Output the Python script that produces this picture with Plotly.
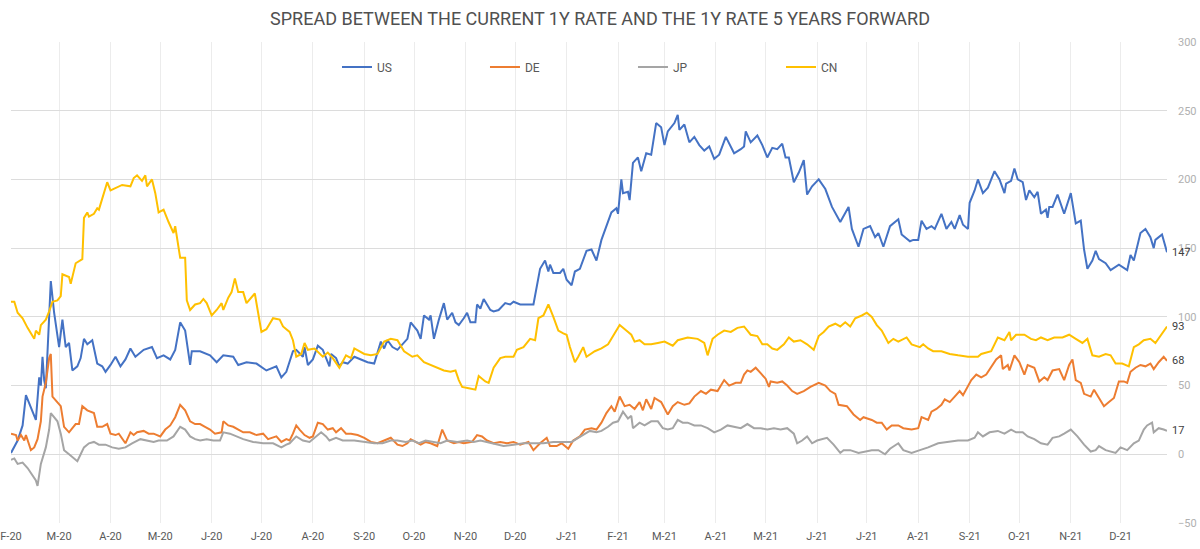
import pandas as pd
import plotly.graph_objects as go

START = "2020-02-01"

# ---- data: day offsets from START and values (bp) ----
us_day = [0, 4, 7, 9, 15, 17, 18, 19, 20, 21, 24, 26, 29, 31, 33, 35, 37, 40, 42, 44, 46, 49, 52, 55, 57, 60, 63, 66, 69, 72, 75, 80, 85, 88, 92, 96, 99, 102, 105, 108, 109, 114, 120, 124, 128, 134, 137, 142, 148, 154, 160, 163, 166, 170,
          172, 176, 177, 179, 182, 185, 188, 190, 192, 193, 196, 198, 200, 203, 207, 211, 215, 219, 223, 225, 227, 230, 233, 239, 241, 245, 247, 249, 252, 253, 255, 258, 261, 263, 266, 268, 270, 273, 275, 277, 280, 281, 283, 285, 287, 289, 291, 294, 298, 301, 303, 307, 310, 315, 319, 322, 324, 325, 327, 331, 333, 335, 338, 340, 343, 345,
          347, 350, 353, 356, 359, 362, 365, 366, 368, 369, 372, 373, 375, 378, 380, 383, 386, 388, 389, 392, 394, 396, 400, 402, 403, 406, 409, 412, 415, 418, 421, 424, 427, 431, 433, 436, 440, 442, 443, 446, 450, 453, 456, 459, 462, 465, 467, 469, 472, 475, 478, 480, 483, 487, 491, 495, 500, 503, 505, 507, 511, 514, 518,
          521, 523, 526, 530, 535, 537, 542, 544, 547, 549, 552, 555, 557, 559, 561, 564, 567, 569, 572, 574, 577, 578, 581, 583, 586, 589, 593, 596, 599, 600, 603, 605, 607, 610, 612, 614, 617, 619, 621, 624, 625, 626, 628, 631, 635, 639, 642, 645, 647, 649, 652, 654, 656, 660, 663, 668, 673, 675, 677, 681, 684, 687, 689, 690, 694, 697]
us_val = [1, 10, 21, 43, 25, 56, 50, 71, 54, 48, 126, 103, 78, 98, 78, 81, 61, 64, 70, 84, 80, 83, 66, 64, 60, 65, 71, 64, 69, 77, 71, 76, 78, 70, 72, 69, 76, 96, 90, 65, 75, 75, 72, 67, 72, 71, 65, 67, 66, 61, 64, 56, 60, 75,
          76, 71, 78, 65, 69, 79, 76, 70, 64, 73, 70, 64, 67, 66, 71, 69, 67, 66, 82, 77, 83, 78, 76, 84, 96, 90, 84, 101, 98, 101, 84, 98, 110, 98, 103, 96, 94, 99, 103, 96, 96, 109, 106, 113, 109, 105, 104, 105, 110, 109, 111, 109, 109, 109, 135, 141, 133, 138, 132, 132, 135, 127, 123, 133, 135, 142,
          148, 149, 141, 156, 166, 176, 179, 175, 200, 190, 191, 185, 212, 216, 206, 219, 218, 233, 241, 238, 225, 235, 241, 247, 236, 240, 227, 231, 225, 221, 224, 215, 218, 231, 226, 219, 222, 224, 235, 227, 232, 225, 216, 223, 222, 226, 216, 216, 198, 205, 214, 189, 195, 200, 193, 180, 169, 176, 180, 164, 151, 164, 166,
          158, 161, 151, 166, 171, 160, 155, 156, 156, 170, 164, 166, 164, 170, 175, 164, 169, 164, 174, 167, 164, 183, 192, 200, 190, 194, 206, 200, 190, 197, 199, 208, 200, 198, 185, 192, 187, 191, 175, 178, 172, 180, 180, 189, 175, 190, 168, 170, 149, 135, 141, 148, 142, 139, 134, 138, 134, 145, 141, 161, 164, 158, 150, 156, 160, 147]

de_day = [0, 3, 4, 6, 8, 9, 12, 14, 16, 18, 19, 21, 23, 24, 25, 28, 30, 32, 35, 37, 39, 41, 43, 46, 50, 52, 55, 58, 60, 63, 65, 69, 72, 74, 76, 80, 83, 86, 90, 93, 96, 99, 102, 105, 108, 111, 114, 117, 120, 123, 127, 128, 131, 134, 137, 140, 144, 148, 152, 155, 160, 163, 166,
          168, 170, 172, 174, 177, 180, 182, 185, 188, 191, 194, 196, 199, 202, 205, 209, 213, 217, 221, 225, 229, 233, 236, 239, 241, 244, 247, 250, 253, 257, 260, 263, 267, 270, 273, 278, 281, 284, 287, 291, 295, 299, 303, 307, 312, 315, 319, 323, 325, 329, 332, 336, 339, 343, 346,
          350, 353, 356, 359, 362, 364, 367, 370, 373, 376, 379, 381, 383, 386, 388, 392, 396, 399, 402, 406, 409, 412, 416, 419, 422, 426, 430, 433, 437, 440, 442, 444, 446, 449, 452, 455, 457, 458, 462, 465, 468, 471, 474, 478, 482, 487, 491, 494, 497, 499, 504, 508, 512, 514, 519,
          522, 525, 528, 531, 535, 538, 543, 547, 549, 553, 555, 558, 561, 563, 566, 569, 572, 574, 577, 579, 582, 585, 588, 591, 594, 597, 598, 601, 602, 605, 608, 611, 613, 617, 620, 623, 625, 628, 632, 635, 638, 640, 642, 645, 647, 651, 653, 656, 659, 662, 665, 668, 671, 673, 675, 678, 681, 684, 687, 689, 692, 695, 697]
de_val = [15, 14, 10, 14, 10, 14, 3, 5, 11, 24, 42, 52, 70, 73, 42, 38, 35, 20, 16, 19, 22, 22, 35, 32, 30, 20, 20, 22, 15, 14, 15, 8, 16, 14, 16, 17, 15, 15, 13, 18, 21, 27, 36, 32, 24, 22, 22, 20, 18, 15, 16, 24, 21, 20, 18, 16, 16, 14, 15, 11, 13, 9, 11,
          10, 15, 21, 18, 14, 12, 13, 23, 22, 18, 19, 16, 19, 15, 15, 14, 12, 9, 8, 10, 12, 7, 6, 8, 11, 9, 7, 9, 8, 6, 18, 10, 8, 9, 8, 9, 14, 13, 10, 8, 9, 8, 9, 7, 9, 3, 8, 12, 6, 6, 8, 4, 10, 13, 18,
          19, 18, 23, 30, 35, 31, 42, 35, 36, 33, 38, 32, 40, 33, 41, 38, 29, 35, 38, 36, 37, 42, 46, 44, 47, 46, 54, 50, 52, 52, 58, 61, 60, 63, 59, 55, 49, 53, 52, 53, 50, 46, 44, 46, 49, 52, 50, 46, 44, 36, 35, 29, 25, 27, 25,
          23, 23, 18, 21, 21, 19, 18, 19, 27, 25, 31, 33, 36, 40, 38, 42, 46, 43, 49, 54, 58, 56, 58, 64, 69, 72, 62, 65, 61, 72, 67, 58, 65, 63, 53, 56, 54, 61, 62, 54, 65, 69, 54, 52, 44, 42, 47, 41, 35, 38, 41, 53, 53, 52, 60, 63, 65, 64, 66, 62, 67, 71, 68]

jp_day = [0, 2, 4, 7, 10, 13, 15, 16, 17, 18, 21, 23, 24, 26, 28, 30, 32, 35, 38, 40, 42, 44, 47, 50, 53, 57, 61, 65, 69, 73, 78, 82, 86, 89, 94, 98, 102, 105, 108, 111, 114, 118, 122, 126, 128, 132, 136, 140, 146, 152, 158, 163, 166,
          168, 172, 176, 180, 184, 187, 190, 192, 196, 200, 207, 213, 219, 224, 229, 233, 238, 242, 246, 250, 255, 259, 263, 269, 275, 279, 283, 287, 291, 297, 303, 309, 315, 321, 327, 333, 338, 342, 346,
          349, 353, 356, 360, 363, 366, 369, 372, 374, 375, 379, 382, 386, 390, 393, 396, 399, 402, 405, 408, 412, 416, 420, 424, 428, 432, 436, 440, 444, 448, 452, 456, 460, 464, 468, 472, 474, 477, 480, 483, 486, 489, 492, 496, 500, 502, 506, 511, 516,
          519, 523, 527, 530, 535, 538, 543, 548, 553, 559, 565, 571, 577, 581, 583, 586, 590, 595, 599, 603, 606, 610, 613, 617, 621, 625, 628, 632, 635, 639, 643, 647, 651, 654, 656, 660, 666, 669, 673, 677, 680, 683, 685, 688, 689, 692, 695, 697]
jp_val = [-4, -3, -7, -6, -10, -15, -19, -23, -15, -7, 5, 18, 30, 27, 24, 15, 3, 0, -3, -5, 0, 5, 8, 9, 7, 7, 5, 4, 5, 8, 11, 10, 9, 10, 10, 13, 20, 18, 13, 11, 10, 11, 10, 10, 16, 15, 13, 11, 9, 8, 8, 5, 7,
          8, 13, 10, 9, 13, 16, 13, 10, 12, 10, 10, 9, 8, 8, 10, 10, 9, 10, 8, 10, 9, 8, 10, 9, 10, 9, 10, 9, 8, 6, 7, 8, 8, 8, 9, 9, 9, 12, 15,
          17, 16, 17, 20, 23, 24, 31, 26, 28, 19, 23, 21, 24, 24, 19, 18, 19, 25, 23, 23, 21, 21, 19, 16, 18, 21, 20, 19, 22, 19, 19, 18, 19, 18, 19, 15, 8, 10, 13, 8, 10, 11, 12, 7, 1, 3, 3, 1, 2,
          3, 3, 0, 4, 8, 3, 1, 3, 5, 8, 9, 10, 10, 12, 16, 13, 16, 17, 15, 18, 16, 16, 13, 11, 8, 7, 12, 13, 15, 18, 13, 7, 2, 3, 6, 3, 1, 5, 3, 8, 10, 18, 21, 23, 16, 19, 18, 17]

cn_day = [0, 2, 4, 7, 10, 14, 15, 17, 18, 21, 23, 25, 28, 30, 31, 35, 36, 39, 43, 44, 46, 47, 50, 52, 53, 56, 58, 60, 65, 67, 72, 74, 76, 79, 81, 82, 85, 87, 89, 92, 95, 98, 99, 102, 105, 106, 108, 111, 114, 116, 118, 121, 124, 127, 128, 131, 133, 135, 137, 140, 142, 144, 147, 149, 151, 154, 158, 162, 164, 166,
          168, 170, 172, 175, 177, 179, 183, 188, 191, 194, 198, 202, 205, 207, 210, 213, 217, 221, 225, 229, 233, 237, 242, 245, 249, 253, 257, 261, 265, 268, 270, 272, 276, 280, 282, 286, 288, 291, 295, 298, 303, 305, 309, 313, 316, 318, 321, 324, 327, 330, 333, 335, 337, 340, 342, 345,
          347, 352, 356, 360, 364, 367, 371, 374, 376, 379, 382, 386, 390, 394, 399, 402, 408, 414, 418, 420, 423, 426, 430, 434, 438, 442, 446, 450, 453, 456, 459, 462, 466, 469, 472, 476, 480, 484, 487, 490, 493, 497, 500, 503, 506, 509, 513, 516, 519,
          522, 525, 529, 532, 535, 540, 543, 548, 550, 553, 556, 561, 566, 571, 577, 583, 585, 591, 595, 599, 602, 603, 606, 611, 615, 618, 621, 625, 629, 634, 638, 642, 646, 649, 652, 656, 660, 663, 666, 670, 674, 677, 680, 683, 687, 690, 693, 697]
cn_val = [111, 111, 103, 99, 92, 84, 90, 87, 94, 98, 104, 111, 112, 115, 131, 129, 124, 139, 142, 172, 176, 173, 175, 179, 178, 189, 198, 192, 195, 196, 195, 201, 203, 199, 203, 195, 200, 190, 176, 178, 169, 161, 166, 143, 143, 112, 105, 109, 110, 113, 110, 101, 105, 110, 105, 114, 118, 128, 118, 118, 110, 113, 117, 103, 89, 91, 99, 98, 93, 91,
          89, 83, 71, 73, 81, 76, 77, 71, 74, 70, 63, 72, 70, 77, 75, 73, 72, 73, 82, 84, 83, 75, 71, 72, 67, 65, 63, 61, 60, 61, 54, 49, 48, 47, 57, 53, 52, 63, 70, 71, 71, 76, 78, 84, 83, 99, 101, 109, 100, 90, 88, 87, 78, 67, 71, 78,
          71, 75, 77, 80, 88, 94, 90, 87, 82, 83, 80, 80, 81, 82, 79, 83, 85, 84, 81, 72, 84, 87, 90, 89, 92, 93, 87, 86, 80, 80, 77, 76, 80, 85, 82, 83, 80, 76, 86, 89, 93, 95, 93, 96, 93, 99, 101, 103, 100,
          94, 90, 81, 84, 82, 85, 80, 78, 80, 77, 75, 75, 73, 72, 71, 71, 73, 75, 85, 83, 89, 83, 87, 87, 84, 83, 85, 83, 85, 85, 87, 84, 81, 84, 72, 71, 73, 72, 66, 66, 64, 78, 80, 83, 84, 81, 86, 93]

month_ticks = ["2020-02-01", "2020-03-01", "2020-04-01", "2020-05-01", "2020-06-01", "2020-07-01", "2020-08-01", "2020-09-01",
               "2020-10-01", "2020-11-01", "2020-12-01", "2021-01-01", "2021-02-01", "2021-03-01", "2021-04-01", "2021-05-01",
               "2021-06-01", "2021-07-01", "2021-08-01", "2021-09-01", "2021-10-01", "2021-11-01", "2021-12-01"]
month_labels = ["F-20", "M-20", "A-20", "M-20", "J-20", "J-20", "A-20", "S-20", "O-20", "N-20", "D-20", "J-21",
                "F-21", "M-21", "A-21", "M-21", "J-21", "J-21", "A-21", "S-21", "O-21", "N-21", "D-21"]

series = [
    ("US", us_day, us_val, "#4472C4"),
    ("DE", de_day, de_val, "#ED7D31"),
    ("JP", jp_day, jp_val, "#A5A5A5"),
    ("CN", cn_day, cn_val, "#FFC000"),
]

base = pd.Timestamp(START)
fig = go.Figure()
annotations = []
for name, days, vals, color in series:
    xs = base + pd.to_timedelta(days, unit="D")
    fig.add_trace(go.Scatter(x=xs, y=vals, mode="lines", name=name,
                             line=dict(color=color, width=2)))
    annotations.append(dict(x=xs[-1], y=vals[-1], xref="x", yref="y", text=str(vals[-1]),
                            showarrow=False, xanchor="left", xshift=3,
                            font=dict(size=11, color="#404040", family="Roboto")))

fig.update_layout(
    width=1200, height=549,
    margin=dict(l=11, r=33, t=42, b=26),
    paper_bgcolor="white", plot_bgcolor="white",
    font=dict(family="Roboto", color="#595959"),
    title=dict(text="SPREAD BETWEEN THE CURRENT 1Y RATE AND THE 1Y RATE 5 YEARS FORWARD",
               x=0.5, xanchor="center", y=1 - 19 / 549, yanchor="middle",
               font=dict(size=18, color="#505050", family="Roboto")),
    legend=dict(orientation="h", x=0.282, xanchor="left", y=0.948, yanchor="middle",
                bgcolor="rgba(0,0,0,0)", entrywidth=103, entrywidthmode="pixels",
                itemwidth=30, font=dict(size=12, color="#595959")),
    annotations=annotations,
    showlegend=True,
)
fig.update_xaxes(type="date", range=["2020-02-01", "2021-12-29"],
                 tickvals=month_ticks, ticktext=month_labels,
                 showgrid=True, gridcolor="#ececec", gridwidth=1,
                 zeroline=False, showline=False, ticks="",
                 automargin=False, ticklabelstandoff=5,
                 tickfont=dict(size=11, color="#595959"))
fig.update_yaxes(range=[-50, 300], dtick=50, side="right",
                 showgrid=True, gridcolor="#dcdcdc", gridwidth=1,
                 zeroline=False, showline=False, ticks="",
                 automargin=False, ticklabelstandoff=10,
                 tickfont=dict(size=11, color="#b0b0b0"))

fig.write_html("out.html")
